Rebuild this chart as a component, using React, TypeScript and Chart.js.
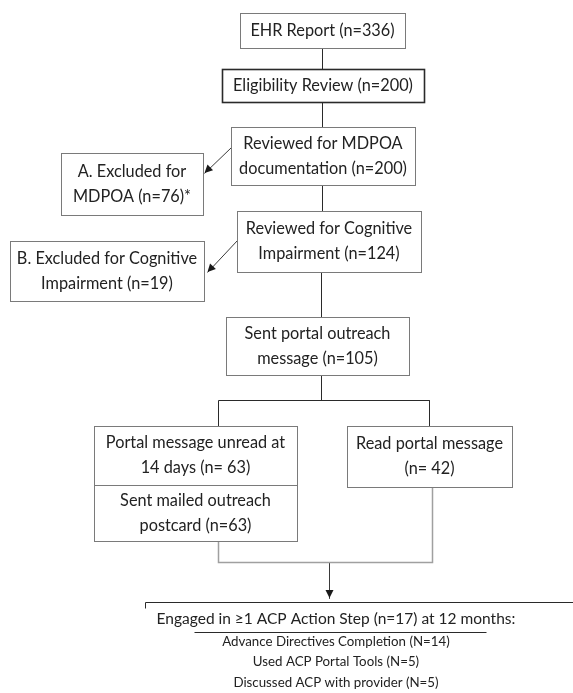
import React, { useEffect, useRef } from "react";
import { Chart, registerables } from "chart.js";

Chart.register(...registerables);

// ---- Flowchart content ----
const boxLabels: string[][] = [
  ["EHR Report (n=336)"],
  ["Eligibility Review (n=200)"],
  ["Reviewed for MDPOA", "documentation (n=200)"],
  ["A. Excluded for", "MDPOA (n=76)*"],
  ["Reviewed for Cognitive", "Impairment (n=124)"],
  ["B. Excluded for Cognitive", "Impairment (n=19)"],
  ["Sent portal outreach", "message (n=105)"],
  ["Portal message unread at", "14 days (n= 63)"],
  ["Sent mailed outreach", "postcard (n=63)"],
  ["Read portal message", "(n= 42)"],
];

// box layout in diagram units: [x0, x1, y0, y1]
const boxLayout: number[][] = [
  [240, 405, 13, 48],
  [222, 424, 69, 102],
  [231, 415, 127, 185],
  [61, 203, 153, 215],
  [237, 421, 211, 272],
  [10, 204, 241, 301],
  [226, 409, 317, 375],
  [94, 297, 426, 485],
  [94, 297, 485, 541],
  [347, 512, 426, 487],
];

const outcomeTitle = "Engaged in \u22651 ACP Action Step (n=17) at 12 months:";
const outcomeItems = [
  "Advance Directives Completion (N=14)",
  "Used ACP Portal Tools (N=5)",
  "Discussed ACP with provider (N=5)",
];

// connector paths in diagram units
const connectorsDark: number[][][] = [
  [[322, 48], [322, 69]],
  [[322, 102], [322, 127]],
  [[322, 185], [322, 211]],
  [[321, 272], [321, 317]],
  [[321, 375], [321, 400]],
  [[218, 426], [218, 400], [429, 400], [429, 426]],
  [[145, 608], [145, 602], [573, 602]],
  [[194, 632], [486, 632]],
];
const connectorsGray: number[][][] = [
  [[218, 541], [218, 562], [432, 562], [432, 487]],
];
const arrows: number[][][] = [
  [[329, 562], [329, 598]],
  [[231, 147], [204, 173]],
  [[237, 240], [207, 272]],
];

const FONT = "Lato, 'Open Sans', sans-serif";
const TEXT = "#222222";

const flowPlugin = {
  id: "flow",
  afterDatasetsDraw(chart: any) {
    const ctx = chart.ctx as CanvasRenderingContext2D;
    const xs = chart.scales.x;
    const ys = chart.scales.y;
    const px = (v: number) => xs.getPixelForValue(v);
    const py = (v: number) => ys.getPixelForValue(v);
    ctx.save();
    // boxes
    boxLayout.forEach((b, i) => {
      const x0 = px(b[0]), x1 = px(b[1]), y0 = py(b[2]), y1 = py(b[3]);
      ctx.fillStyle = "#ffffff";
      ctx.fillRect(x0, y0, x1 - x0, y1 - y0);
      if (i === 1) {
        ctx.strokeStyle = "#2a2a2a";
        ctx.lineWidth = 1.6;
      } else {
        ctx.strokeStyle = "#7a7a7a";
        ctx.lineWidth = 1;
      }
      ctx.strokeRect(Math.round(x0) + 0.5, Math.round(y0) + 0.5, Math.round(x1 - x0), Math.round(y1 - y0));
      const lines = boxLabels[i];
      const lh = 25;
      const cy = (y0 + y1) / 2;
      ctx.fillStyle = TEXT;
      ctx.font = `16.3px ${FONT}`;
      ctx.textAlign = "center";
      ctx.textBaseline = "middle";
      lines.forEach((t, k) => {
        const yy = cy + (k - (lines.length - 1) / 2) * lh;
        ctx.fillText(t, (x0 + x1) / 2, yy);
      });
    });
    // arrowheads
    arrows.forEach((a) => {
      const [p0, p1] = a;
      const x0 = px(p0[0]) + 0.5, y0 = py(p0[1]), x1 = px(p1[0]) + 0.5, y1 = py(p1[1]);
      const ang = Math.atan2(y1 - y0, x1 - x0);
      const L = 8, W = 4;
      ctx.fillStyle = "#1a1a1a";
      ctx.beginPath();
      ctx.moveTo(x1, y1);
      ctx.lineTo(x1 - L * Math.cos(ang) + W * Math.sin(ang), y1 - L * Math.sin(ang) - W * Math.cos(ang));
      ctx.lineTo(x1 - L * Math.cos(ang) - W * Math.sin(ang), y1 - L * Math.sin(ang) + W * Math.cos(ang));
      ctx.closePath();
      ctx.fill();
    });
    // outcome text
    ctx.fillStyle = TEXT;
    ctx.textAlign = "center";
    ctx.textBaseline = "middle";
    ctx.font = `15.5px ${FONT}`;
    ctx.fillText(outcomeTitle, px(336), py(619));
    ctx.font = `13.3px ${FONT}`;
    const itemY = [642, 662, 683];
    outcomeItems.forEach((t, k) => ctx.fillText(t, px(336), py(itemY[k])));
    ctx.restore();
  },
};

export default function App() {
  const ref = useRef<HTMLCanvasElement>(null);
  useEffect(() => {
    if (!ref.current) return;
    // +0.5 keeps 1px strokes crisp on the pixel grid
    const mk = (path: number[][], color: string, w: number) => ({
      data: path.map((p) => ({ x: p[0] + 0.5, y: p[1] + 0.5 })),
      showLine: true,
      borderColor: color,
      borderWidth: w,
      pointRadius: 0,
      fill: false,
      tension: 0,
    });
    const datasets: any[] = [
      ...connectorsDark.map((p) => mk(p, "#2a2a2a", 1)),
      ...connectorsGray.map((p) => mk(p, "#a0a0a0", 1.5)),
      ...arrows.map((p) => mk(p, "#3a3a3a", 1)),
    ];
    const chart = new Chart(ref.current, {
      type: "scatter",
      data: { datasets },
      options: {
        animation: false,
        responsive: false,
        maintainAspectRatio: false,
        layout: { padding: 0 },
        plugins: { legend: { display: false }, tooltip: { enabled: false } },
        events: [],
        scales: {
          x: { type: "linear", min: 0, max: 573, display: false },
          y: { type: "linear", min: 0, max: 693, reverse: true, display: false },
        },
      },
      plugins: [flowPlugin],
    });
    return () => chart.destroy();
  }, []);
  return (
    <div style={{ position: "fixed", left: 0, top: 0, width: 573, height: 693, background: "#fff" }}>
      <canvas ref={ref} width={573} height={693} style={{ width: 573, height: 693 }} />
    </div>
  );
}
